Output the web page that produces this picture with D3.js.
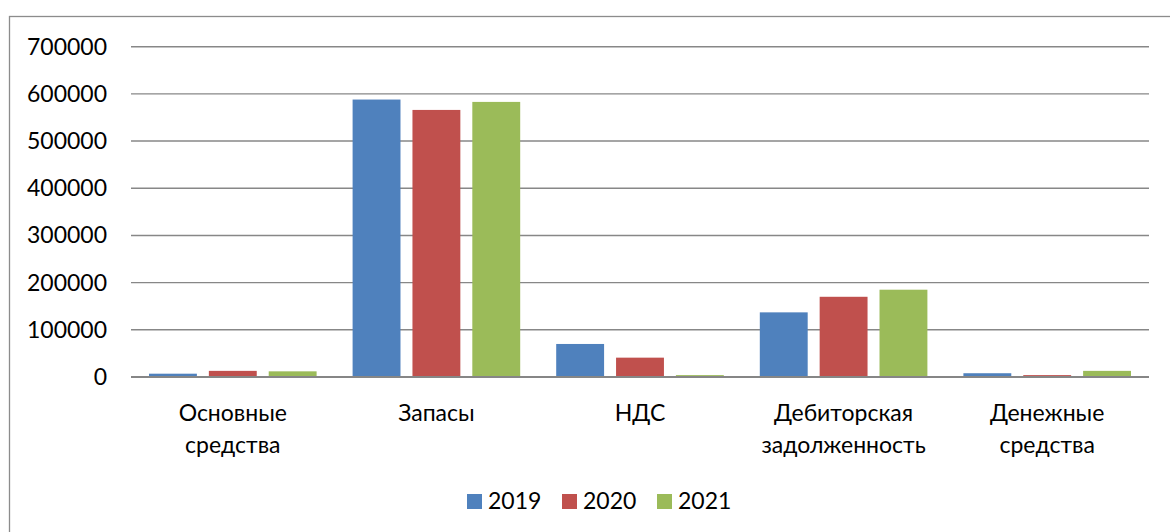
<!DOCTYPE html>
<html>
<head>
<meta charset="utf-8">
<script src="https://cdn.jsdelivr.net/npm/d3@7"></script>
<style>
  html, body { margin: 0; padding: 0; background: #fff; }
  svg { display: block; }
  text { font-family: Lato, "Open Sans", "Liberation Sans", sans-serif; fill: #000; }
</style>
</head>
<body>
<svg id="chart" width="1170" height="532"></svg>
<script>
// Asset categories (each entry is split into display lines)
const categories = [
  ["Основные", "средства"],
  ["Запасы"],
  ["НДС"],
  ["Дебиторская", "задолженность"],
  ["Денежные", "средства"]
];
const years = ["2019", "2020", "2021"];
const values2019 = [7000, 588000, 70000, 137000, 8000];
const values2020 = [13000, 566000, 41000, 170000, 4000];
const values2021 = [12000, 583000, 4000, 185000, 13000];
const yTicks = [0, 100000, 200000, 300000, 400000, 500000, 600000, 700000];
const colors = ["#4F81BD", "#C0504D", "#9BBB59"];

const series = [values2019, values2020, values2021];

const svg = d3.select("#chart");
const W = 1170, H = 532;
const plot = { left: 131, right: 1149, top: 46.7, bottom: 377 };

// outer chart frame
svg.append("rect")
  .attr("x", 9.5).attr("y", 16.5)
  .attr("width", W + 10).attr("height", H + 10)
  .attr("fill", "none").attr("stroke", "#8c8c8c").attr("stroke-width", 1.3);

const catIdx = categories.map((d, i) => i);
const x0 = d3.scaleBand().domain(catIdx).range([plot.left, plot.right]).padding(0);
const x1 = d3.scaleBand().domain(years)
  .range([18, x0.bandwidth() - 18]).paddingInner(0.2).paddingOuter(0);
const y = d3.scaleLinear().domain([0, 700000]).range([plot.bottom, plot.top]);

// horizontal gridlines
svg.append("g").selectAll("line")
  .data(yTicks.filter(t => t > 0))
  .join("line")
  .attr("x1", plot.left).attr("x2", plot.right)
  .attr("y1", d => y(d)).attr("y2", d => y(d))
  .attr("stroke", "#878787").attr("stroke-width", 1.4);

// y tick labels
const yAxis = d3.axisLeft(y).tickValues(yTicks).tickSize(0).tickPadding(0)
  .tickFormat(d3.format("d"));
const gy = svg.append("g").attr("transform", `translate(107,0)`).call(yAxis);
gy.select(".domain").remove();
gy.selectAll("text")
  .attr("font-size", 23)
  .attr("font-family", "Lato, 'Open Sans', 'Liberation Sans', sans-serif")
  .attr("fill", "#000");

// bars
const groups = svg.append("g").selectAll("g")
  .data(catIdx)
  .join("g")
  .attr("transform", i => `translate(${x0(i)},0)`);

groups.selectAll("rect")
  .data(i => years.map((yr, s) => ({ yr, s, v: series[s][i] })))
  .join("rect")
  .attr("x", d => x1(d.yr))
  .attr("width", x1.bandwidth())
  .attr("y", d => y(d.v))
  .attr("height", d => y(0) - y(d.v))
  .attr("fill", d => colors[d.s]);

// baseline (category axis)
svg.append("line")
  .attr("x1", plot.left).attr("x2", plot.right)
  .attr("y1", y(0)).attr("y2", y(0))
  .attr("stroke", "#868686").attr("stroke-width", 2);

// category labels
const catLabels = svg.append("g").selectAll("text")
  .data(catIdx)
  .join("text")
  .attr("text-anchor", "middle")
  .attr("font-size", 23)
  .attr("x", i => x0(i) + x0.bandwidth() / 2)
  .attr("y", 421);
catLabels.selectAll("tspan")
  .data(i => categories[i].map((t, k) => ({ t, k, i })))
  .join("tspan")
  .attr("x", d => x0(d.i) + x0.bandwidth() / 2)
  .attr("dy", d => d.k === 0 ? 0 : 32)
  .text(d => d.t);

// legend
const legendX = [467, 562, 657];
const legend = svg.append("g").selectAll("g")
  .data(years)
  .join("g")
  .attr("transform", (d, i) => `translate(${legendX[i]},494)`);
legend.append("rect")
  .attr("width", 15).attr("height", 15)
  .attr("fill", (d, i) => colors[i]);
legend.append("text")
  .attr("x", 21).attr("y", 15)
  .attr("font-size", 23)
  .text(d => d);
</script>
</body>
</html>
